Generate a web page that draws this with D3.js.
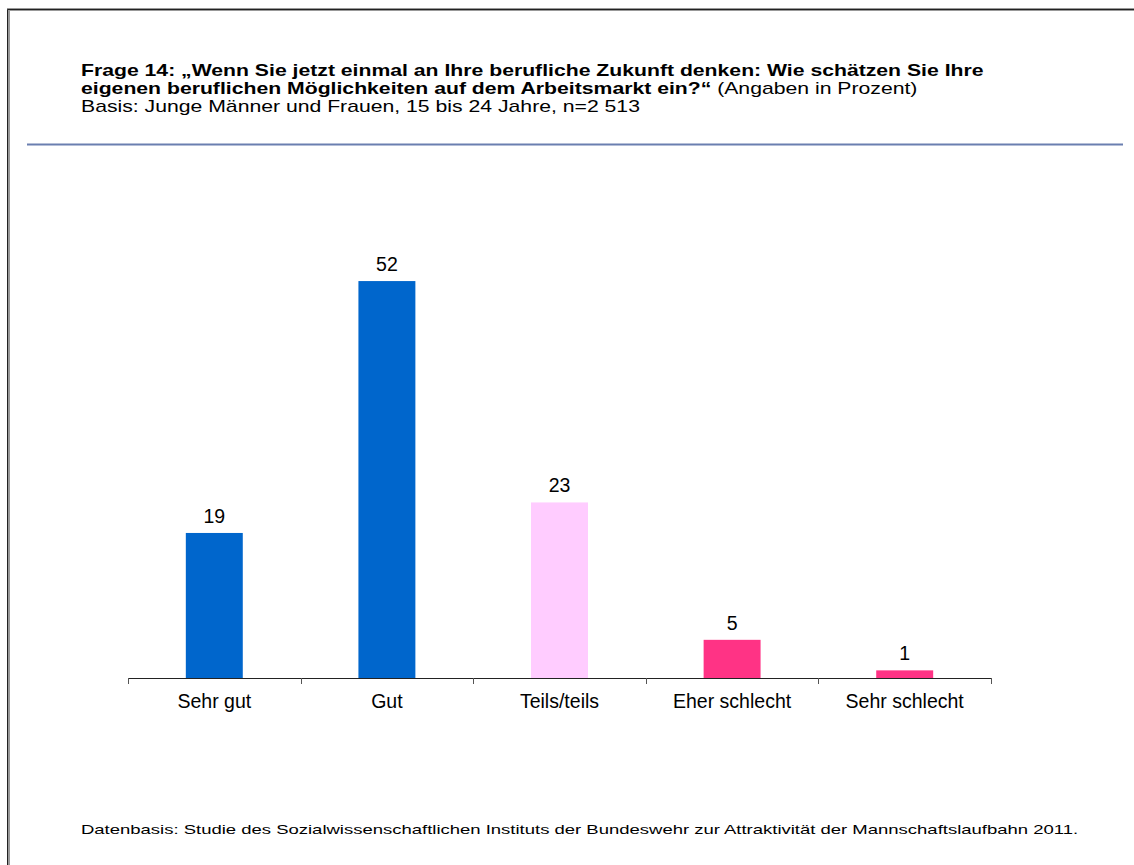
<!DOCTYPE html>
<html>
<head>
<meta charset="utf-8">
<script src="https://cdn.jsdelivr.net/npm/d3@7"></script>
<style>
  body { margin: 0; background: #fff; }
  svg { display: block; font-family: Arial, "Liberation Sans", sans-serif; }
</style>
</head>
<body>
<svg id="chart" width="1134" height="865"></svg>
<script>
// categories and values (Angaben in Prozent)
const categories = ["Sehr gut", "Gut", "Teils/teils", "Eher schlecht", "Sehr schlecht"];
const values = [19, 52, 23, 5, 1];
const barColors = ["#0066cc", "#0066cc", "#ffccff", "#ff3385", "#ff3385"];

const titleBold1 = "Frage 14: \u201EWenn Sie jetzt einmal an Ihre berufliche Zukunft denken: Wie sch\u00E4tzen Sie Ihre";
const titleBold2 = "eigenen beruflichen M\u00F6glichkeiten auf dem Arbeitsmarkt ein?\u201C";
const titleNormal2 = " (Angaben in Prozent)";
const subtitle = "Basis: Junge M\u00E4nner und Frauen, 15 bis 24 Jahre, n=2 513";
const source = "Datenbasis: Studie des Sozialwissenschaftlichen Instituts der Bundeswehr zur Attraktivit\u00E4t der Mannschaftslaufbahn 2011.";

// the slide text is wider than plain Arial
const headStretch = 1.326;
const sourceStretch = 1.36;

const svg = d3.select("#chart");

// frame (left and top edge only, like the original slide crop)
svg.append("path")
  .attr("d", "M8.5,865 L8.5,9.5 L1134,9.5")
  .style("fill", "none")
  .style("stroke", "#999")
  .style("stroke-width", 3);
svg.append("path")
  .attr("d", "M7.5,865 L7.5,9.5 L1134,9.5")
  .style("fill", "none")
  .style("stroke", "#222")
  .style("stroke-width", 1);

// header
const head = svg.append("g")
  .attr("transform", `translate(81,0) scale(${headStretch},1)`)
  .style("font-size", "16px").style("fill", "#000");
head.append("text").attr("x", 0).attr("y", 76)
  .style("font-weight", "bold").text(titleBold1);
const t2 = head.append("text").attr("x", 0).attr("y", 94);
t2.append("tspan").style("font-weight", "bold").text(titleBold2);
t2.append("tspan").text(titleNormal2);
head.append("text").attr("x", 0).attr("y", 112).text(subtitle);

svg.append("line")
  .attr("x1", 27).attr("x2", 1123)
  .attr("y1", 144.5).attr("y2", 144.5)
  .style("stroke", "#6a7fb0")
  .style("stroke-width", 2);

// scales
const x = d3.scaleBand().domain(categories).range([128, 991]);
const y = d3.scaleLinear().domain([0, 60]).range([678, 220]);
const barW = x.bandwidth() * 0.33;

svg.selectAll("rect.bar")
  .data(values)
  .enter()
  .append("rect")
  .attr("class", "bar")
  .attr("x", (d, i) => x(categories[i]) + x.bandwidth() / 2 - barW / 2)
  .attr("y", d => y(d))
  .attr("width", barW)
  .attr("height", d => y(0) - y(d))
  .style("fill", (d, i) => barColors[i]);

svg.selectAll("text.val")
  .data(values)
  .enter()
  .append("text")
  .attr("class", "val")
  .attr("x", (d, i) => x(categories[i]) + x.bandwidth() / 2)
  .attr("y", d => y(d) - 10)
  .attr("text-anchor", "middle")
  .style("font-size", "19.5px")
  .text(d => d);

// axis
const axis = svg.append("g")
  .attr("transform", "translate(0,678)")
  .call(d3.axisBottom(x).tickSize(0).tickPadding(0));
axis.select(".domain").remove();
axis.selectAll("text").remove();

axis.append("line")
  .attr("x1", 128).attr("x2", 991)
  .attr("y1", 0.5).attr("y2", 0.5)
  .style("stroke", "#222");
axis.selectAll("line.sep")
  .data(categories.concat([null]))
  .enter()
  .append("line")
  .attr("class", "sep")
  .attr("x1", (d, i) => Math.round(128 + i * x.step()) + 0.5)
  .attr("x2", (d, i) => Math.round(128 + i * x.step()) + 0.5)
  .attr("y1", 0).attr("y2", 6)
  .style("stroke", "#555");

axis.selectAll("text.cat")
  .data(categories)
  .enter()
  .append("text")
  .attr("class", "cat")
  .attr("x", d => x(d) + x.bandwidth() / 2)
  .attr("y", 30)
  .attr("text-anchor", "middle")
  .style("font-size", "19.5px")
  .style("fill", "#000")
  .text(d => d);

// source
svg.append("g")
  .attr("transform", `translate(81,0) scale(${sourceStretch},1)`)
  .append("text")
  .attr("x", 0).attr("y", 834)
  .style("font-size", "13.6px")
  .text(source);
</script>
</body>
</html>
